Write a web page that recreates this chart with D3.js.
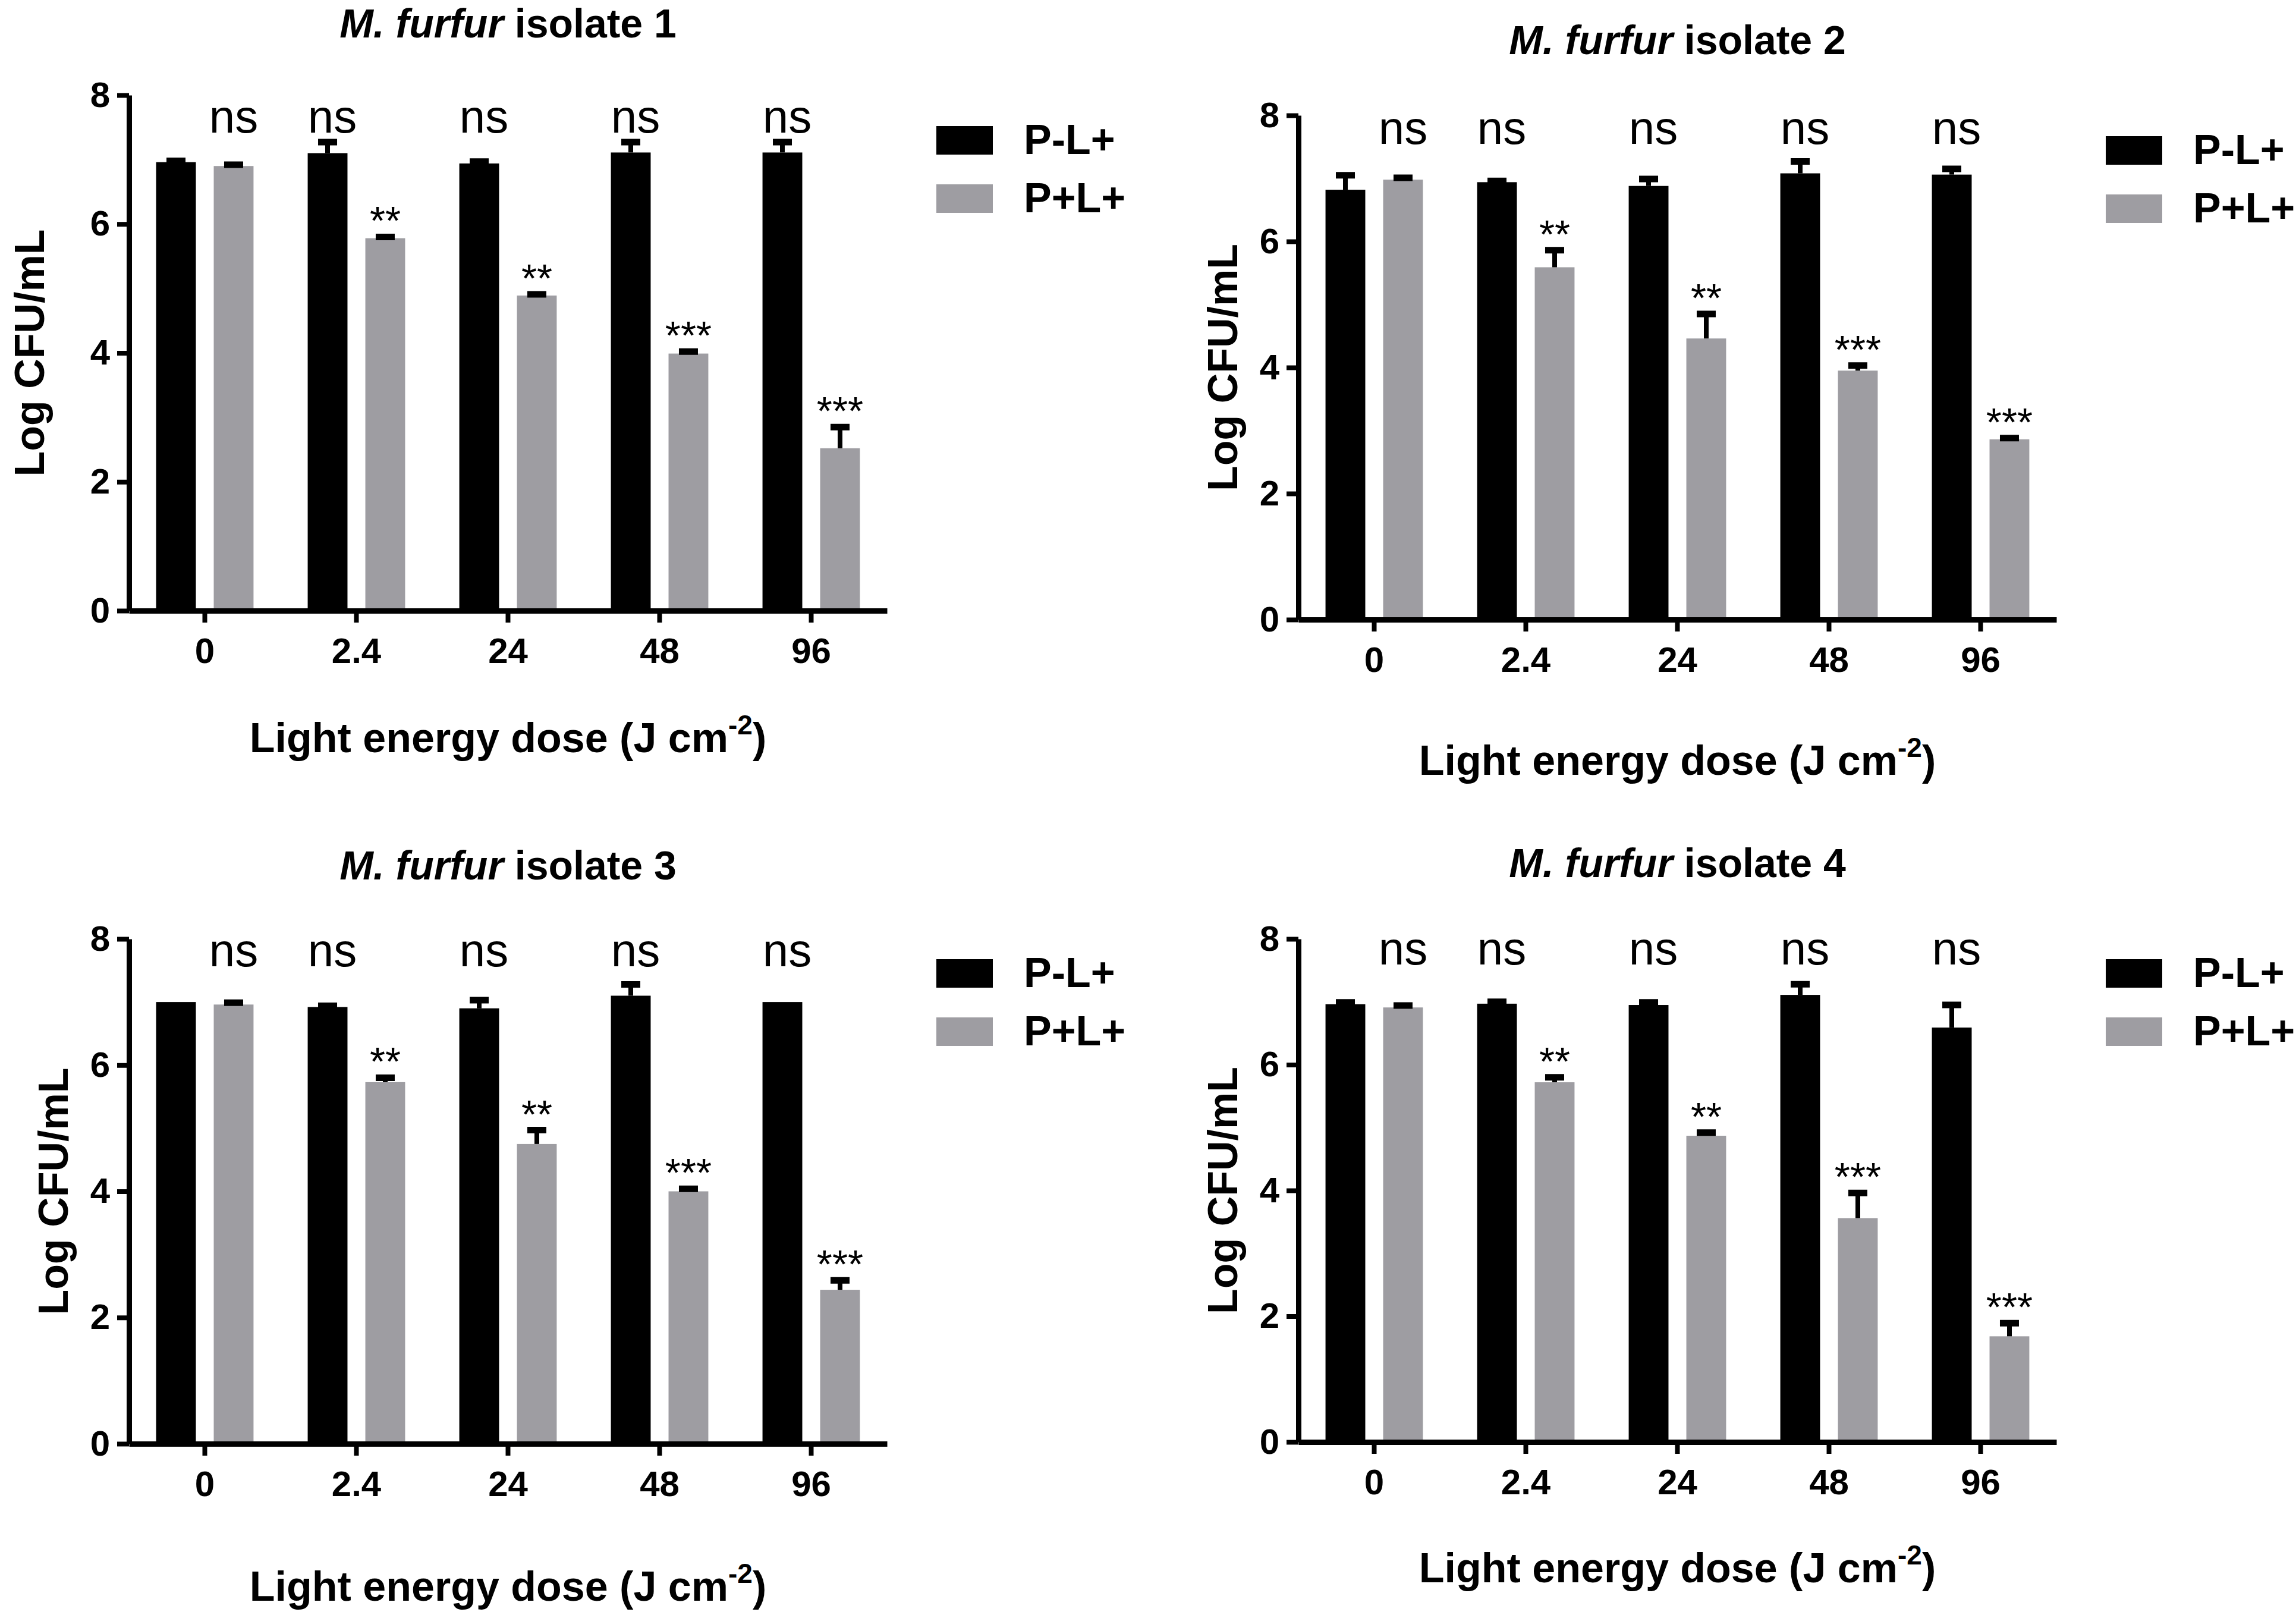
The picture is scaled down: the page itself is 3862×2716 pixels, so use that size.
<!DOCTYPE html>
<html>
<head>
<meta charset="utf-8">
<script src="https://cdn.jsdelivr.net/npm/d3@7"></script>
<style>
  body { margin: 0; background: #fff; }
  svg text { font-family: "Liberation Sans", Arial, Helvetica, sans-serif; fill: #000; }
</style>
</head>
<body>
<script>
// doses on the x axis and the two treatment groups
const categories = ['0', '2.4', '24', '48', '96'];
const series = ['P-L+', 'P+L+'];
const yTicks = [0, 2, 4, 6, 8];
const isolates = ['isolate 1', 'isolate 2', 'isolate 3', 'isolate 4'];

// mean Log CFU/mL and SEM, one pair of arrays per isolate
const iso1Dark = [6.96, 7.10, 6.94, 7.11, 7.11];
const iso1DarkErr = [0.02, 0.17, 0.03, 0.16, 0.16];
const iso1Light = [6.90, 5.78, 4.89, 3.99, 2.52];
const iso1LightErr = [0.02, 0.02, 0.02, 0.03, 0.33];

const iso2Dark = [6.82, 6.94, 6.88, 7.08, 7.06];
const iso2DarkErr = [0.23, 0.02, 0.11, 0.19, 0.09];
const iso2Light = [6.98, 5.59, 4.46, 3.95, 2.86];
const iso2LightErr = [0.03, 0.27, 0.39, 0.08, 0.02];

const iso3Dark = [7.00, 6.92, 6.90, 7.10, 7.00];
const iso3DarkErr = [0, 0.02, 0.13, 0.18, 0];
const iso3Light = [6.96, 5.73, 4.75, 4.00, 2.44];
const iso3LightErr = [0.03, 0.07, 0.22, 0.04, 0.15];

const iso4Dark = [6.96, 6.97, 6.95, 7.11, 6.59];
const iso4DarkErr = [0.03, 0.03, 0.04, 0.17, 0.36];
const iso4Light = [6.91, 5.72, 4.87, 3.56, 1.68];
const iso4LightErr = [0.03, 0.08, 0.05, 0.40, 0.21];

// significance marks: "ns" over one bar of each dose, stars over the P+L+ bar
const nsOver = ['P+L+', 'P-L+', 'P-L+', 'P-L+', 'P-L+'];
const stars = ['', '**', '**', '***', '***'];

const dark = [iso1Dark, iso2Dark, iso3Dark, iso4Dark];
const darkErr = [iso1DarkErr, iso2DarkErr, iso3DarkErr, iso4DarkErr];
const light = [iso1Light, iso2Light, iso3Light, iso4Light];
const lightErr = [iso1LightErr, iso2LightErr, iso3LightErr, iso4LightErr];

const colors = { 'P-L+': '#000000', 'P+L+': '#9e9da2' };

// where each panel sits on the page
const layout = [
  { x0: 217,  top: 160,  bottom: 1027, titleY: 63,   xTitleY: 1265, yLabelX: 49,   legendY: 212,  nsAt: 7.42 },
  { x0: 2184, top: 194,  bottom: 1042, titleY: 91,   xTitleY: 1303, yLabelX: 2056, legendY: 229,  nsAt: 7.55 },
  { x0: 217,  top: 1579, bottom: 2428, titleY: 1479, xTitleY: 2692, yLabelX: 89,   legendY: 1613, nsAt: 7.57 },
  { x0: 2184, top: 1579, bottom: 2425, titleY: 1475, xTitleY: 2661, yLabelX: 2056, legendY: 1613, nsAt: 7.59 }
];

const W = 3862, H = 2716;
const axisW = 1275;

const svg = d3.select('body').append('svg')
  .attr('width', W)
  .attr('height', H);

svg.append('rect').attr('width', W).attr('height', H).attr('fill', '#fff');

layout.forEach((L, p) => {
  const g = svg.append('g');

  const x = d3.scaleBand().domain(categories).range([L.x0, L.x0 + axisW]);
  const x1 = d3.scaleBand().domain(series).range([0, x.bandwidth()])
    .paddingInner(0.31).paddingOuter(0.47);
  const y = d3.scaleLinear().domain([0, 8]).range([L.bottom, L.top]);

  const rows = categories.map((c, i) => ({
    cat: c,
    vals: [
      { s: 'P-L+', v: dark[p][i], e: darkErr[p][i] },
      { s: 'P+L+', v: light[p][i], e: lightErr[p][i] }
    ]
  }));

  // bars
  const grp = g.selectAll('g.grp').data(rows).enter().append('g')
    .attr('class', 'grp')
    .attr('transform', d => `translate(${x(d.cat)},0)`);

  grp.selectAll('rect').data(d => d.vals).enter().append('rect')
    .attr('x', d => x1(d.s))
    .attr('y', d => y(d.v))
    .attr('width', x1.bandwidth())
    .attr('height', d => y(0) - y(d.v))
    .attr('fill', d => colors[d.s]);

  // error bars (upper only, black)
  const eb = grp.selectAll('g.err').data(d => d.vals.filter(v => v.e > 0)).enter().append('g')
    .attr('class', 'err');
  eb.append('line')
    .attr('x1', d => x1(d.s) + x1.bandwidth() / 2)
    .attr('x2', d => x1(d.s) + x1.bandwidth() / 2)
    .attr('y1', d => y(d.v))
    .attr('y2', d => y(d.v + d.e))
    .attr('stroke', '#000').attr('stroke-width', 8);
  eb.append('line')
    .attr('x1', d => x1(d.s) + x1.bandwidth() / 2 - 16)
    .attr('x2', d => x1(d.s) + x1.bandwidth() / 2 + 16)
    .attr('y1', d => y(d.v + d.e))
    .attr('y2', d => y(d.v + d.e))
    .attr('stroke', '#000').attr('stroke-width', 11);

  // ns labels
  grp.append('text')
    .attr('x', (d, i) => x1(nsOver[i]) + x1.bandwidth() / 2 + (nsOver[i] === 'P-L+' ? 8 : 0))
    .attr('y', y(L.nsAt))
    .attr('text-anchor', 'middle')
    .attr('font-size', 78)
    .text('ns');

  // stars
  grp.append('text')
    .attr('x', x1('P+L+') + x1.bandwidth() / 2)
    .attr('y', d => y(d.vals[1].v + d.vals[1].e) - 4)
    .attr('text-anchor', 'middle')
    .attr('font-size', 67)
    .text((d, i) => stars[i]);

  // axes
  const xAxis = g.append('g')
    .attr('transform', `translate(0,${L.bottom})`)
    .call(d3.axisBottom(x).tickSize(20).tickSizeOuter(0).tickPadding(25));
  const yAxis = g.append('g')
    .attr('transform', `translate(${L.x0},0)`)
    .call(d3.axisLeft(y).tickValues(yTicks).tickSize(20).tickSizeOuter(0).tickPadding(12));

  [xAxis, yAxis].forEach(a => {
    a.select('.domain').attr('stroke', '#000').attr('stroke-width', 9);
    a.selectAll('.tick line').attr('stroke', '#000').attr('stroke-width', 8);
    a.selectAll('.tick text')
      .attr('font-size', 60)
      .attr('font-weight', 'bold')
      .attr('font-family', '"Liberation Sans", Arial, sans-serif')
      .attr('fill', '#000');
  });

  // title
  const t = g.append('text')
    .attr('x', L.x0 + axisW / 2)
    .attr('y', L.titleY)
    .attr('text-anchor', 'middle')
    .attr('font-size', 68)
    .attr('font-weight', 'bold');
  t.append('tspan').attr('font-style', 'italic').text('M. furfur');
  t.append('tspan').text(' ' + isolates[p]);

  // x title
  const xt = g.append('text')
    .attr('x', L.x0 + axisW / 2)
    .attr('y', L.xTitleY)
    .attr('text-anchor', 'middle')
    .attr('font-size', 70)
    .attr('font-weight', 'bold');
  xt.append('tspan').text('Light energy dose (J cm');
  xt.append('tspan').attr('font-size', 46).attr('dy', -30).text('-2');
  xt.append('tspan').attr('dy', 30).text(')');

  // y title
  g.append('text')
    .attr('transform', `translate(${L.yLabelX},${(L.top + L.bottom) / 2}) rotate(-90)`)
    .attr('text-anchor', 'middle')
    .attr('dy', '0.36em')
    .attr('font-size', 70)
    .attr('font-weight', 'bold')
    .text('Log CFU/mL');

  // legend
  const lg = g.append('g').attr('transform', `translate(${L.x0 + 1358},${L.legendY})`);
  series.forEach((s, i) => {
    lg.append('rect')
      .attr('x', 0).attr('y', i * 98)
      .attr('width', 95).attr('height', 48)
      .attr('fill', colors[s]);
    lg.append('text')
      .attr('x', 147).attr('y', i * 98 + 47)
      .attr('font-size', 70)
      .attr('font-weight', 'bold')
      .text(s);
  });
});
</script>
</body>
</html>
